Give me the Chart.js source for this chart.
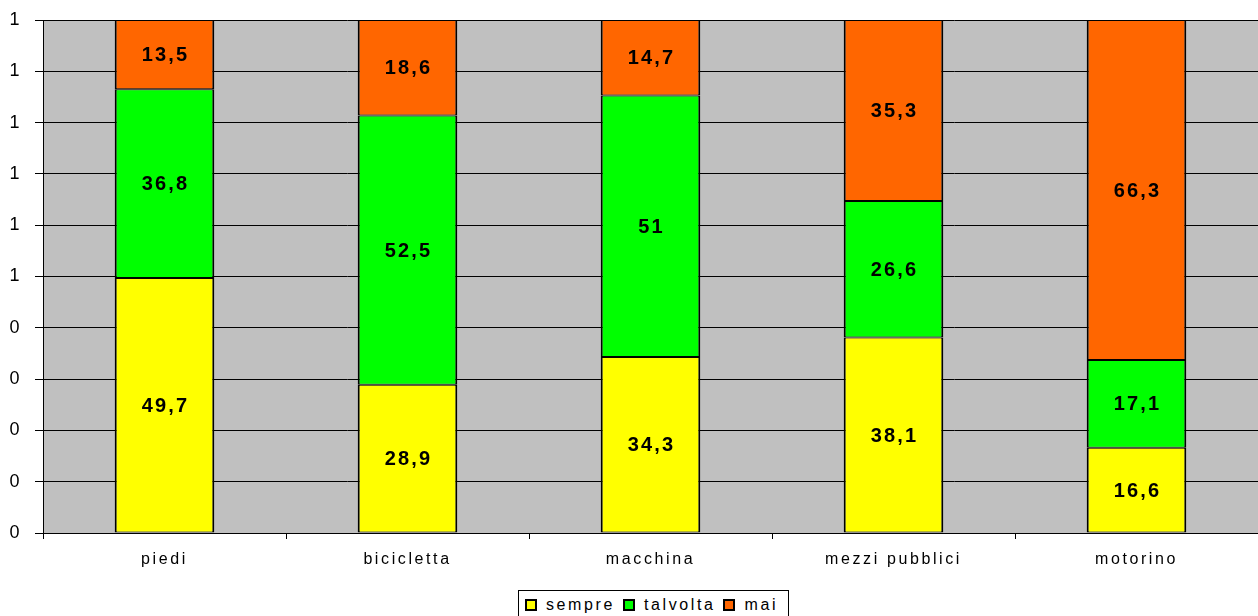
<!DOCTYPE html>
<html>
<head>
<meta charset="utf-8">
<script src="https://cdn.jsdelivr.net/npm/chart.js@4.4.1/dist/chart.umd.min.js"></script>
<style>
    body { margin: 0; background: #fff; }
    #wrap { position: relative; width: 1258px; height: 616px; }
    #legenda {
        position: absolute; left: 518px; top: 590px; width: 271px; height: 30px;
        border: 1px solid #000; box-sizing: border-box; background: #fff;
        font-family: Arial, "Liberation Sans", sans-serif; font-size: 16px; letter-spacing: 2.6px;
        display: flex; align-items: center; padding-left: 6px; white-space: nowrap;
    }
    #legenda span.box {
        display: inline-block; width: 8px; height: 8px; border: 2px solid #000;
        margin-right: 9px; vertical-align: -1px;
    }
    #legenda .item { margin-right: 8px; }
</style>
</head>
<body>
<div id="wrap">
    <canvas id="grafico" width="1258" height="616"></canvas>
    <div id="legenda"></div>
</div>
<script>
const categorie = ['piedi', 'bicicletta', 'macchina', 'mezzi pubblici', 'motorino'];
const sempre = [49.7, 28.9, 34.3, 38.1, 16.6];
const talvolta = [36.8, 52.5, 51, 26.6, 17.1];
const mai = [13.5, 18.6, 14.7, 35.3, 66.3];
const etichetteY = ['0', '0', '0', '0', '0', '1', '1', '1', '1', '1', '1'];

const serie = [
    { nome: 'sempre', valori: sempre, colore: '#FFFF00' },
    { nome: 'talvolta', valori: talvolta, colore: '#00FF00' },
    { nome: 'mai', valori: mai, colore: '#FF6600' }
];

// sfondo grigio dell'area del grafico
const sfondo = {
    id: 'sfondo',
    beforeDraw(chart) {
        const a = chart.chartArea;
        const ctx = chart.ctx;
        ctx.save();
        ctx.fillStyle = '#C0C0C0';
        ctx.fillRect(a.left, a.top, a.right - a.left, a.bottom - a.top);
        ctx.restore();
        ctx.letterSpacing = '2.6px';
    }
};

// valori dentro le barre
const etichette = {
    id: 'etichette',
    afterDatasetsDraw(chart) {
        const ctx = chart.ctx;
        ctx.save();
        ctx.font = 'bold 20px Arial, "Liberation Sans", sans-serif';
        ctx.fillStyle = '#000';
        ctx.textAlign = 'center';
        ctx.textBaseline = 'middle';
        ctx.letterSpacing = '2.2px';
        chart.data.datasets.forEach((ds, i) => {
            chart.getDatasetMeta(i).data.forEach((bar, j) => {
                const testo = String(ds.data[j]).replace('.', ',');
                ctx.fillText(testo, bar.x + 1, (bar.y + bar.base) / 2 + 1);
            });
        });
        ctx.restore();
    }
};

const ctx = document.getElementById('grafico').getContext('2d');
const grafico = new Chart(ctx, {
    type: 'bar',
    data: {
        labels: categorie,
        datasets: serie.map(s => ({
            label: s.nome,
            data: s.valori,
            backgroundColor: s.colore,
            borderColor: '#000',
            borderWidth: { top: 1, bottom: 1, left: 2, right: 2 },
            borderSkipped: false,
            categoryPercentage: 1,
            barPercentage: 0.41
        }))
    },
    options: {
        responsive: false,
        animation: false,
        layout: { padding: { top: 20, right: 0, left: 0, bottom: 0 } },
        plugins: {
            legend: { display: false },
            tooltip: { enabled: false }
        },
        scales: {
            x: {
                stacked: true,
                grid: { offset: true, drawOnChartArea: false, color: '#000', tickLength: 6 },
                border: { color: '#000', width: 1 },
                ticks: {
                    color: '#000',
                    padding: 11,
                    maxRotation: 0,
                    font: { family: 'Arial, "Liberation Sans", sans-serif', size: 16 }
                },
                afterFit(scale) {
                    scale.height = 83;
                    scale.paddingLeft = 0;
                    scale.paddingRight = 0;
                }
            },
            y: {
                stacked: true,
                min: 0,
                max: 100,
                grid: { color: '#000', tickLength: 8 },
                border: { color: '#000', width: 1 },
                ticks: {
                    stepSize: 10,
                    color: '#000',
                    padding: 13,
                    font: { family: 'Arial, "Liberation Sans", sans-serif', size: 18 },
                    callback: (v, i) => etichetteY[i]
                },
                afterFit(scale) {
                    scale.width = 43;
                    scale.paddingTop = 0;
                    scale.paddingBottom = 0;
                }
            }
        }
    },
    plugins: [sfondo, etichette]
});

// legenda con bordo, come nell'originale
const legenda = document.getElementById('legenda');
serie.forEach(s => {
    const item = document.createElement('span');
    item.className = 'item';
    item.innerHTML = '<span class="box" style="background:' + s.colore + '"></span>' + s.nome;
    legenda.appendChild(item);
});
</script>
</body>
</html>
